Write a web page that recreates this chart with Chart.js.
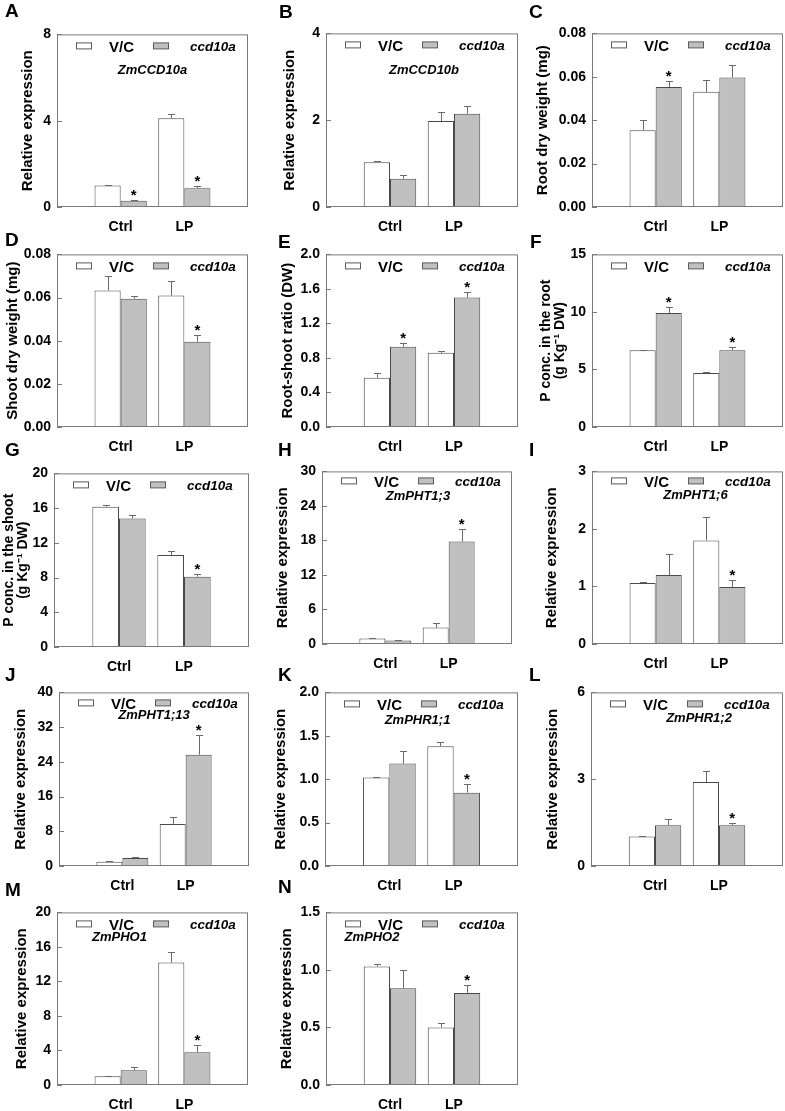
<!DOCTYPE html>
<html>
<head>
<meta charset="utf-8">
<script src="https://cdn.jsdelivr.net/npm/chart.js@4.4.0/dist/chart.umd.min.js"></script>
<style>
  body { margin: 0; background: #fff; width: 785px; height: 1111px; position: relative; overflow: hidden; }
  canvas { position: absolute; }
  .letter { position: absolute; font: bold 19px Arial, "Liberation Sans", sans-serif; line-height: 1; color: #000; }
</style>
</head>
<body>
<script>
// shared categories / series
const categories = ['Ctrl', 'LP'];
const seriesNames = ['V/C', 'ccd10a'];

// A - ZmCCD10a
const A_vc = [1.00, 4.11], A_vcErr = [0.01, 0.21];
const A_ccd = [0.29, 0.87], A_ccdErr = [0.02, 0.10];
const A_sig = [true, true];
const A_ticks = ['0', '4', '8'];

// B - ZmCCD10b
const B_vc = [1.03, 1.98], B_vcErr = [0.02, 0.22];
const B_ccd = [0.65, 2.15], B_ccdErr = [0.09, 0.18];
const B_sig = [false, false];
const B_ticks = ['0', '2', '4'];

// C - root dry weight
const C_vc = [0.0354, 0.0531], C_vcErr = [0.0047, 0.0056];
const C_ccd = [0.0553, 0.0597], C_ccdErr = [0.0027, 0.0059];
const C_sig = [true, false];
const C_ticks = ['0.00', '0.02', '0.04', '0.06', '0.08'];

// D - shoot dry weight
const D_vc = [0.0633, 0.0609], D_vcErr = [0.0068, 0.0069];
const D_ccd = [0.0594, 0.0395], D_ccdErr = [0.0015, 0.0032];
const D_sig = [false, true];
const D_ticks = ['0.00', '0.02', '0.04', '0.06', '0.08'];

// E - root-shoot ratio
const E_vc = [0.57, 0.86], E_vcErr = [0.06, 0.015];
const E_ccd = [0.93, 1.50], E_ccdErr = [0.04, 0.07];
const E_sig = [true, true];
const E_ticks = ['0.0', '0.4', '0.8', '1.2', '1.6', '2.0'];

// F - P conc. root
const F_vc = [6.66, 4.70], F_vcErr = [0.06, 0.06];
const F_ccd = [9.90, 6.66], F_ccdErr = [0.50, 0.26];
const F_sig = [true, true];
const F_ticks = ['0', '5', '10', '15'];

// G - P conc. shoot
const G_vc = [16.17, 10.60], G_vcErr = [0.23, 0.45];
const G_ccd = [14.81, 8.10], G_ccdErr = [0.34, 0.34];
const G_sig = [false, true];
const G_ticks = ['0', '4', '8', '12', '16', '20'];

// H - ZmPHT1;3
const H_vc = [0.97, 2.85], H_vcErr = [0.10, 0.75];
const H_ccd = [0.63, 17.8], H_ccdErr = [0.10, 2.2];
const H_sig = [false, true];
const H_ticks = ['0', '6', '12', '18', '24', '30'];

// I - ZmPHT1;6
const I_vc = [1.06, 1.80], I_vcErr = [0.01, 0.40];
const I_ccd = [1.20, 0.99], I_ccdErr = [0.36, 0.12];
const I_sig = [false, true];
const I_ticks = ['0', '1', '2', '3'];

// J - ZmPHT1;13
const J_vc = [0.99, 9.7], J_vcErr = [0.05, 1.5];
const J_ccd = [1.82, 25.65], J_ccdErr = [0.3, 4.5];
const J_sig = [false, true];
const J_ticks = ['0', '8', '16', '24', '32', '40'];

// K - ZmPHR1;1
const K_vc = [1.02, 1.38], K_vcErr = [0.01, 0.05];
const K_ccd = [1.18, 0.845], K_ccdErr = [0.14, 0.095];
const K_sig = [false, true];
const K_ticks = ['0.0', '0.5', '1.0', '1.5', '2.0'];

// L - ZmPHR1;2
const L_vc = [1.02, 2.90], L_vcErr = [0.01, 0.38];
const L_ccd = [1.41, 1.41], L_ccdErr = [0.20, 0.08];
const L_sig = [false, true];
const L_ticks = ['0', '3', '6'];

// M - ZmPHO1
const M_vc = [1.0, 14.2], M_vcErr = [0.1, 1.2];
const M_ccd = [1.7, 3.8], M_ccdErr = [0.35, 0.85];
const M_sig = [false, true];
const M_ticks = ['0', '4', '8', '12', '16', '20'];

// N - ZmPHO2
const N_vc = [1.03, 0.50], N_vcErr = [0.02, 0.04];
const N_ccd = [0.84, 0.80], N_ccdErr = [0.16, 0.07];
const N_sig = [false, true];
const N_ticks = ['0.0', '0.5', '1.0', '1.5'];

const REL = 'Relative expression';
const panels = [
  {id: 'A', box: [57, 32, 248, 207], d: [A_vc, A_vcErr, A_ccd, A_ccdErr, A_sig], ticks: A_ticks, title: REL, titleX: 27.5, gene: 'ZmCCD10a', geneY: 36, geneDx: 0, letter: [5, 1]},
  {id: 'B', box: [326, 31, 518, 207], d: [B_vc, B_vcErr, B_ccd, B_ccdErr, B_sig], ticks: B_ticks, title: REL, titleX: 289.5, gene: 'ZmCCD10b', geneY: 37, geneDx: 2, letter: [279, 2]},
  {id: 'C', box: [592, 31, 783, 207], d: [C_vc, C_vcErr, C_ccd, C_ccdErr, C_sig], ticks: C_ticks, title: 'Root dry weight (mg)', titleX: 543, letter: [529, 2]},
  {id: 'D', box: [57, 252, 248, 427], d: [D_vc, D_vcErr, D_ccd, D_ccdErr, D_sig], ticks: D_ticks, title: 'Shoot dry weight (mg)', titleX: 12.5, letter: [5, 230]},
  {id: 'E', box: [326, 252, 518, 427], d: [E_vc, E_vcErr, E_ccd, E_ccdErr, E_sig], ticks: E_ticks, title: 'Root-shoot ratio (DW)', titleX: 288, letter: [278, 232]},
  {id: 'F', box: [592, 252, 783, 427], d: [F_vc, F_vcErr, F_ccd, F_ccdErr, F_sig], ticks: F_ticks, title: ['P conc. in the root', '(g Kg\u207B\u00B9 DW)'], titleX: 546.5, letter: [530, 232]},
  {id: 'G', box: [54, 471, 249, 647], d: [G_vc, G_vcErr, G_ccd, G_ccdErr, G_sig], ticks: G_ticks, title: ['P conc. in the shoot', '(g Kg\u207B\u00B9 DW)'], titleX: 9.5, letter: [5, 440]},
  {id: 'H', box: [322, 469, 512, 644], d: [H_vc, H_vcErr, H_ccd, H_ccdErr, H_sig], ticks: H_ticks, title: REL, titleX: 283, gene: 'ZmPHT1;3', geneY: 25, geneDx: 1, legendY: 10, letter: [278, 440]},
  {id: 'I', box: [592, 469, 783, 644], d: [I_vc, I_vcErr, I_ccd, I_ccdErr, I_sig], ticks: I_ticks, title: REL, titleX: 551.5, gene: 'ZmPHT1;6', geneY: 24, geneDx: 8, legendY: 10, letter: [529, 440]},
  {id: 'J', box: [59, 690, 249, 866], d: [J_vc, J_vcErr, J_ccd, J_ccdErr, J_sig], ticks: J_ticks, title: REL, titleX: 21, gene: 'ZmPHT1;13', geneY: 23, geneDx: 0, legendY: 11, letter: [5, 665]},
  {id: 'K', box: [325, 690, 518, 866], d: [K_vc, K_vcErr, K_ccd, K_ccdErr, K_sig], ticks: K_ticks, title: REL, titleX: 281, gene: 'ZmPHR1;1', geneY: 28, geneDx: -4, letter: [278, 665]},
  {id: 'L', box: [591, 690, 783, 866], d: [L_vc, L_vcErr, L_ccd, L_ccdErr, L_sig], ticks: L_ticks, title: REL, titleX: 553, gene: 'ZmPHR1;2', geneY: 26, geneDx: 12, letter: [529, 665]},
  {id: 'M', box: [57, 910, 248, 1085], d: [M_vc, M_vcErr, M_ccd, M_ccdErr, M_sig], ticks: M_ticks, title: REL, titleX: 22, gene: 'ZmPHO1', geneY: 25, geneDx: -33, letter: [5, 880]},
  {id: 'N', box: [326, 910, 518, 1085], d: [N_vc, N_vcErr, N_ccd, N_ccdErr, N_sig], ticks: N_ticks, title: REL, titleX: 287, gene: 'ZmPHO2', geneY: 25, geneDx: -50, letter: [278, 877]}
];

const FONT = 'Arial, "Liberation Sans", sans-serif';
const BAR_EDGE = '#4a4a4a';
const GREY_FILL = '#c0c0c0';
const X_LABEL_GAP = 12;   // x tick padding; chart.js also reserves it on the right edge

// pad a 2-value list out to the 4 slots on the x axis
const pad = arr => [null, arr[0], arr[1], null];

const panelPlugin = {
  id: 'panelDeco',
  afterDatasetsDraw(chart) {
    const {ctx} = chart;
    const y = chart.scales.y;
    chart.data.datasets.forEach((ds, i) => {
      const meta = chart.getDatasetMeta(i);
      meta.data.forEach((bar, j) => {
        const v = ds.data[j];
        if (v == null) return;
        const top = Math.round(y.getPixelForValue(v + ds.err[j])) + 0.5;
        const bx = Math.round(bar.x) + 0.5;
        ctx.save();
        ctx.strokeStyle = '#6a6a6a';
        ctx.lineWidth = 1;
        ctx.beginPath();
        ctx.moveTo(bx, bar.y);
        ctx.lineTo(bx, top);
        ctx.moveTo(bx - 3.5, top);
        ctx.lineTo(bx + 3.5, top);
        ctx.stroke();
        if (ds.sig && ds.sig[j]) {
          ctx.fillStyle = '#000';
          ctx.font = 'bold 15px ' + FONT;
          ctx.textAlign = 'center';
          ctx.textBaseline = 'alphabetic';
          ctx.fillText('*', bar.x, top - 1);
        }
        ctx.restore();
      });
    });
  },
  afterDraw(chart) {
    const {ctx, chartArea: a} = chart;
    const opts = chart.options.plugins.panelDeco;
    const y = chart.scales.y;
    ctx.save();
    // frame
    ctx.strokeStyle = '#7a7a7a';
    ctx.lineWidth = 1;
    ctx.strokeRect(a.left + 0.5, a.top + 0.5, a.right - a.left - 1, a.bottom - a.top - 1);
    // inward tick marks
    ctx.beginPath();
    y.ticks.forEach(t => {
      const py = Math.round(y.getPixelForValue(t.value)) + 0.5;
      ctx.moveTo(a.left, py);
      ctx.lineTo(a.left + 5, py);
    });
    ctx.stroke();
    // legend
    const ds = chart.data.datasets;
    const cy = a.top + opts.legendY;
    ctx.strokeStyle = '#5a5a5a';
    ctx.fillStyle = ds[0].backgroundColor;
    ctx.fillRect(a.left + 19.5, cy - 3.5, 15, 6);
    ctx.strokeRect(a.left + 19.5, cy - 3.5, 15, 6);
    ctx.fillStyle = ds[1].backgroundColor;
    ctx.fillRect(a.left + 96.5, cy - 3.5, 15, 6);
    ctx.strokeRect(a.left + 96.5, cy - 3.5, 15, 6);
    ctx.fillStyle = '#000';
    ctx.textBaseline = 'middle';
    ctx.textAlign = 'left';
    ctx.font = 'bold 15px ' + FONT;
    ctx.fillText(ds[0].label, a.left + 52, cy + 1);
    ctx.font = 'italic bold 13.5px ' + FONT;
    ctx.fillText(ds[1].label, a.left + 133, cy + 1);
    // gene name
    if (opts.gene) {
      ctx.textAlign = 'center';
      ctx.font = 'italic bold 13px ' + FONT;
      ctx.fillText(opts.gene, (a.left + a.right) / 2 + opts.geneDx, a.top + opts.geneY);
    }
    ctx.restore();
  }
};

panels.forEach(p => {
  const [l, t, r, b] = p.box;
  const x0 = l < 200 ? 0 : (l < 500 ? 262 : 524);
  const padTop = 12, xAxisH = 32;
  const cv = document.createElement('canvas');
  cv.width = r - x0 + X_LABEL_GAP;
  cv.height = padTop + (b - t) + xAxisH;
  cv.style.left = x0 + 'px';
  cv.style.top = (t - padTop) + 'px';
  document.body.appendChild(cv);

  const div = document.createElement('div');
  div.className = 'letter';
  div.textContent = p.id;
  div.style.left = p.letter[0] + 'px';
  div.style.top = p.letter[1] + 'px';
  document.body.appendChild(div);

  const [vc, vcErr, ccd, ccdErr, sig] = p.d;
  const tickVals = p.ticks.map(Number);
  const twoLine = Array.isArray(p.title);

  new Chart(cv, {
    type: 'bar',
    data: {
      labels: ['', ...categories, ''],
      datasets: [
        {label: seriesNames[0], data: pad(vc), err: pad(vcErr), sig: null,
         backgroundColor: '#ffffff', borderColor: BAR_EDGE, borderWidth: 1},
        {label: seriesNames[1], data: pad(ccd), err: pad(ccdErr), sig: pad(sig),
         backgroundColor: GREY_FILL, borderColor: BAR_EDGE, borderWidth: 1}
      ]
    },
    options: {
      responsive: false,
      animation: false,
      devicePixelRatio: 1,
      layout: {padding: {top: padTop, right: X_LABEL_GAP, left: 0, bottom: 0}},
      datasets: {bar: {categoryPercentage: 0.82, barPercentage: 1.0}},
      plugins: {
        legend: {display: false},
        tooltip: {enabled: false},
        panelDeco: {gene: p.gene, geneY: p.geneY, geneDx: p.geneDx || 0, legendY: p.legendY || 12}
      },
      scales: {
        x: {
          type: 'category',
          offset: false,
          grid: {display: false, drawTicks: false},
          border: {display: false},
          ticks: {color: '#000', padding: X_LABEL_GAP, autoSkip: false, maxRotation: 0,
                  font: {family: FONT, weight: 'bold', size: 14}},
          afterFit: s => { s.height = xAxisH; }
        },
        y: {
          min: 0,
          max: tickVals[tickVals.length - 1],
          grid: {display: false, drawTicks: false},
          border: {display: false},
          afterBuildTicks: s => { s.ticks = tickVals.map(v => ({value: v})); },
          ticks: {color: '#000', padding: 6, font: {family: FONT, weight: 'bold', size: 14},
                  callback: (v, i) => p.ticks[i]},
          title: {display: true, text: p.title, color: '#000',
                  font: {family: FONT, weight: 'bold', size: twoLine ? 14 : 15, lineHeight: '14px'},
                  padding: {top: p.titleX - x0 - 7, bottom: 0}},
          afterFit: s => { s.width = l - x0; }
        }
      }
    },
    plugins: [panelPlugin]
  });
});
</script>
</body>
</html>
